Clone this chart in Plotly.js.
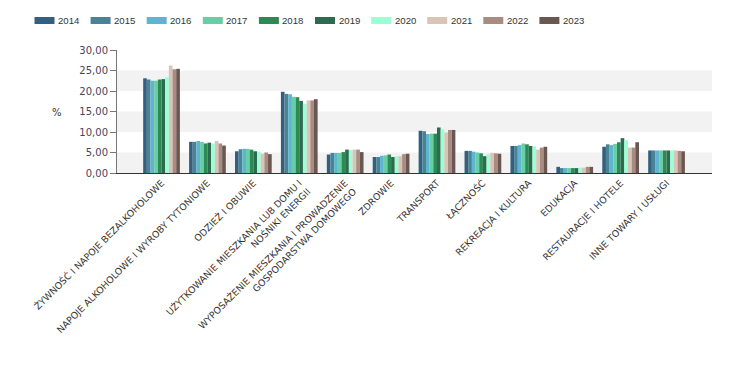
<!DOCTYPE html>
<html><head><meta charset="utf-8">
<script src="https://cdn.plot.ly/plotly-3.0.1.min.js"></script>
<style>html,body{margin:0;padding:0;background:#fff}#chart{width:750px;height:374px}</style>
</head><body><div id="chart"></div>
<script>
const categories = [
  "ŻYWNOŚĆ I NAPOJE BEZALKOHOLOWE",
  "NAPOJE ALKOHOLOWE I WYROBY TYTONIOWE",
  "ODZIEŻ I OBUWIE",
  "UŻYTKOWANIE MIESZKANIA LUB DOMU I<br>NOŚNIKI ENERGII",
  "WYPOSAŻENIE MIESZKANIA I PROWADZENIE<br>GOSPODARSTWA DOMOWEGO",
  "ZDROWIE",
  "TRANSPORT",
  "ŁĄCZNOŚĆ",
  "REKREACJA I KULTURA",
  "EDUKACJA",
  "RESTAURACJE I HOTELE",
  "INNE TOWARY I USŁUGI"
];
const years = ["2014","2015","2016","2017","2018","2019","2020","2021","2022","2023"];
const colors = ["#33607F","#4A8296","#5DB5D0","#69CEA5","#2E8A55","#2E6A50","#9BFFD6","#D8C5B8","#A88C82","#6A5752"];

const v2014 = [23.1, 7.6, 5.3, 19.8, 4.5, 3.9, 10.3, 5.4, 6.6, 1.5, 6.4, 5.5];
const v2015 = [22.8, 7.6, 5.8, 19.3, 4.9, 3.9, 10.2, 5.4, 6.6, 1.2, 7.0, 5.5];
const v2016 = [22.5, 7.8, 5.9, 19.2, 4.9, 4.2,  9.5, 5.2, 6.8, 1.2, 6.8, 5.5];
const v2017 = [22.5, 7.6, 5.9, 18.6, 4.9, 4.3,  9.6, 5.0, 7.2, 1.2, 7.1, 5.5];
const v2018 = [22.8, 7.2, 5.7, 18.5, 5.1, 4.5,  9.6, 4.8, 7.0, 1.2, 7.5, 5.5];
const v2019 = [22.9, 7.4, 5.3, 17.6, 5.7, 3.9, 11.1, 4.1, 6.6, 1.2, 8.5, 5.5];
const v2020 = [23.4, 7.2, 5.2, 16.9, 5.6, 4.1, 10.7, 4.6, 6.5, 1.3, 8.0, 5.5];
const v2021 = [26.2, 7.8, 4.7, 17.7, 5.7, 4.1,  9.9, 4.9, 5.7, 1.3, 6.2, 5.5];
const v2022 = [25.3, 7.2, 5.0, 17.7, 5.7, 4.6, 10.5, 4.8, 6.2, 1.5, 6.2, 5.4];
const v2023 = [25.4, 6.7, 4.6, 18.0, 5.1, 4.7, 10.5, 4.7, 6.4, 1.5, 7.5, 5.3];
const series = [v2014, v2015, v2016, v2017, v2018, v2019, v2020, v2021, v2022, v2023];

const yTicks = [0, 5, 10, 15, 20, 25, 30];

const W = 750, H = 374;
const M = {l: 117, r: 38, t: 50, b: 201};
const PW = W - M.l - M.r, PH = H - M.t - M.b;
const px2paperX = p => (p - M.l) / PW;
const px2paperY = p => (H - M.b - p) / PH;

const traces = series.map((vals, i) => ({
  type: "bar",
  name: years[i],
  x: categories,
  y: vals,
  marker: {color: colors[i], line: {width: 0}},
  hoverinfo: "name+y",
  showlegend: false
}));

const shapes = [[0,5],[10,15],[20,25]].map(b => ({
  type: "rect", xref: "paper", yref: "y", x0: 0, x1: 1, y0: b[0], y1: b[1],
  fillcolor: "#F2F2F2", line: {width: 0}, layer: "below"
}));

const annotations = [{
  text: "%", xref: "paper", yref: "paper", x: px2paperX(57), y: px2paperY(112),
  xanchor: "center", yanchor: "middle", showarrow: false,
  font: {family: "DejaVu Sans, sans-serif", size: 10, color: "#333"}
}];

// legend drawn as swatches + labels
const legStart = 34.5, legStep = 56.1, swW = 20, swTop = 17, swBot = 24;
years.forEach((yr, i) => {
  const x0 = legStart + legStep * i;
  shapes.push({
    type: "rect", xref: "paper", yref: "paper",
    x0: px2paperX(x0), x1: px2paperX(x0 + swW),
    y0: px2paperY(swBot), y1: px2paperY(swTop),
    fillcolor: colors[i], line: {width: 0}
  });
  annotations.push({
    text: yr, xref: "paper", yref: "paper",
    x: px2paperX(x0 + swW + 1.5), y: px2paperY(20.8),
    xanchor: "left", yanchor: "middle", showarrow: false,
    font: {family: "Liberation Sans, Arial, sans-serif", size: 9.6, color: "#333"}
  });
});

const layout = {
  width: W, height: H,
  margin: {l: M.l, r: M.r, t: M.t, b: M.b, pad: 0},
  paper_bgcolor: "#fff", plot_bgcolor: "rgba(0,0,0,0)",
  separators: ", ",
  barmode: "group", bargap: 0.2, bargroupgap: 0,
  font: {family: "DejaVu Sans, sans-serif", size: 10, color: "#444"},
  showlegend: false,
  xaxis: {
    type: "category", range: [-0.97, 11.99],
    tickangle: -45, showgrid: false, zeroline: false,
    showline: true, linecolor: "#333", linewidth: 1,
    ticks: "", tickfont: {family: "DejaVu Sans, sans-serif", size: 9.3, color: "#333"},
    fixedrange: true
  },
  yaxis: {
    range: [0, 30], tickvals: yTicks, tickformat: ".2f",
    showgrid: false, zeroline: false,
    showline: true, linecolor: "#777", linewidth: 1,
    ticks: "outside", ticklen: 6, tickcolor: "#777",
    tickfont: {family: "DejaVu Sans, sans-serif", size: 10, color: "#4A3F5C"},
    fixedrange: true
  },
  shapes: shapes,
  annotations: annotations
};

Plotly.newPlot("chart", traces, layout, {displayModeBar: false});
</script></body></html>
